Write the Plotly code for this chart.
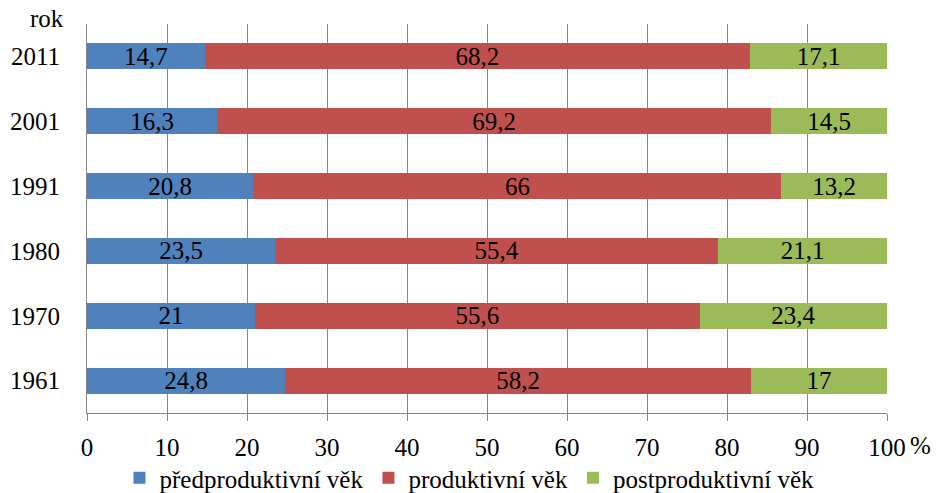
import plotly.graph_objects as go

years = ["1961", "1970", "1980", "1991", "2001", "2011"]
pre = [24.8, 21, 23.5, 20.8, 16.3, 14.7]
prod = [58.2, 55.6, 55.4, 66, 69.2, 68.2]
post = [17, 23.4, 21.1, 13.2, 14.5, 17.1]
series_names = ["předproduktivní věk", "produktivní věk", "postproduktivní věk"]
colors = ["#4F81BD", "#C0504D", "#9BBB59"]
xticks = [0, 10, 20, 30, 40, 50, 60, 70, 80, 90, 100]

FONT = "Liberation Serif"
FS = 25

def fmt(v):
    return ("%g" % v).replace(".", ",")

fig = go.Figure()
for name, vals, col in zip(series_names, [pre, prod, post], colors):
    fig.add_trace(go.Bar(
        y=years, x=vals, name=name, orientation="h",
        marker=dict(color=col, line=dict(width=0)),
        text=[fmt(v) for v in vals], textposition="inside",
        insidetextanchor="middle", textangle=0, constraintext="none",
        textfont=dict(family=FONT, size=FS, color="black"),
        hoverinfo="x+y+name",
    ))

fig.update_layout(
    barmode="stack",
    bargap=0.6,
    width=939, height=493,
    margin=dict(l=87, r=52, t=24, b=80, autoexpand=False),
    paper_bgcolor="white", plot_bgcolor="white",
    font=dict(family=FONT, size=FS, color="black"),
    showlegend=True,
    legend=dict(orientation="h", x=0.5, xanchor="center", xref="container",
                y=-0.108, yanchor="top", yref="paper",
                bgcolor="rgba(0,0,0,0)",
                font=dict(family=FONT, size=25, color="black"),
                traceorder="normal", itemwidth=30),
    xaxis=dict(range=[0, 100], tickvals=xticks, showgrid=True, gridcolor="#868686",
               gridwidth=1, zeroline=False, showline=True, linecolor="#868686",
               ticks="outside", ticklen=7, tickcolor="#868686", automargin=False,
               ticklabelstandoff=5,
               tickfont=dict(family=FONT, size=FS), fixedrange=True),
    yaxis=dict(type="category", categoryorder="array", categoryarray=years,
               showgrid=False, zeroline=False, showline=True, linecolor="#868686",
               ticks="", ticklabelstandoff=21, automargin=False,
               tickfont=dict(family=FONT, size=FS), fixedrange=True),
    annotations=[
        dict(text="rok", xref="paper", yref="paper", x=0, y=1, xanchor="right",
             yanchor="bottom", xshift=-21, yshift=-10, showarrow=False,
             font=dict(family=FONT, size=FS, color="black")),
        dict(text="%", xref="x", yref="paper", x=100, y=0, xanchor="left",
             yanchor="top", xshift=21, yshift=-17, showarrow=False,
             font=dict(family=FONT, size=FS, color="black")),
    ],
)

fig.write_html("out.html", config={"displayModeBar": False},
               post_script="document.body.style.margin='0';document.body.style.padding='0';")
